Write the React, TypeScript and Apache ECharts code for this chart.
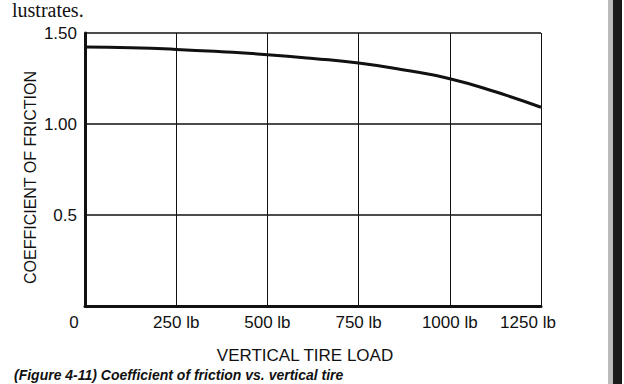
import React, { useEffect, useRef } from "react";
import * as echarts from "echarts";

const loads = [0, 125, 250, 375, 500, 625, 750, 875, 1000, 1125, 1250];
const friction = [1.423, 1.419, 1.41, 1.397, 1.381, 1.36, 1.335, 1.297, 1.249, 1.177, 1.092];
const yTickLabels: Record<string, string> = { "0": "", "0.5": "0.5", "1": "1.00", "1.5": "1.50" };
const xAxisTitle = "VERTICAL TIRE LOAD";
const yAxisTitle = "COEFFICIENT OF FRICTION";
const topText = "lustrates.";
const captionText = "(Figure 4-11) Coefficient of friction vs. vertical tire";

export default function App() {
  const ref = useRef<HTMLDivElement>(null);
  useEffect(() => {
    if (!ref.current) return;
    const chart = echarts.init(ref.current, null, { renderer: "svg" });
    const font = "'Liberation Sans', Arial, sans-serif";
    const ink = "#111";
    chart.setOption({
      animation: false,
      backgroundColor: "#fff",
      grid: { left: 85, right: 83, top: 33, bottom: 78 },
      xAxis: {
        type: "value",
        min: 0,
        max: 1250,
        interval: 250,
        name: xAxisTitle,
        nameLocation: "middle",
        nameGap: 41,
        nameMoveOverlap: false,
        nameTextStyle: { fontFamily: font, fontSize: 17, color: ink, padding: [0, 16, 0, 0] },
        axisLine: { show: true, lineStyle: { color: ink, width: 3 } },
        axisTick: { show: false },
        axisLabel: {
          margin: 8,
          fontFamily: font,
          fontSize: 17,
          color: ink,
          formatter: (v: number) =>
            v === 0 ? "{z|0}" : v === 1250 ? "{r|" + v + " lb}" : v + " lb",
          rich: {
            z: { fontFamily: font, fontSize: 17, color: ink, padding: [0, 22, 0, 0] },
            r: { fontFamily: font, fontSize: 17, color: ink, padding: [0, 26, 0, 0] },
          },
        },
        splitLine: { show: true, lineStyle: { color: ink, width: 1 } },
      },
      yAxis: {
        type: "value",
        min: 0,
        max: 1.5,
        interval: 0.5,
        name: yAxisTitle,
        nameLocation: "middle",
        nameRotate: 90,
        nameGap: 47,
        nameMoveOverlap: false,
        nameTextStyle: { fontFamily: font, fontSize: 16, color: ink, padding: [0, 16, 0, 0] },
        axisLine: { show: true, lineStyle: { color: ink, width: 3 } },
        axisTick: { show: false },
        axisLabel: {
          margin: 8,
          fontFamily: font,
          fontSize: 17,
          color: ink,
          formatter: (v: number) => yTickLabels[String(v)] ?? String(v),
        },
        splitLine: { show: true, lineStyle: { color: ink, width: 1.5 } },
      },
      series: [
        {
          type: "line",
          data: loads.map((x, i) => [x, friction[i]]),
          smooth: true,
          symbol: "none",
          lineStyle: { color: ink, width: 3 },
        },
      ],
      graphic: [
        {
          type: "text",
          left: 12,
          top: 0,
          style: { text: topText, fontFamily: "'Liberation Serif', serif", fontSize: 20, fill: ink },
        },
        {
          type: "text",
          left: 14,
          top: 368,
          style: {
            text: captionText,
            fontFamily: font,
            fontSize: 14,
            fontWeight: "bold",
            fontStyle: "italic",
            fill: ink,
          },
        },
        {
          type: "rect",
          shape: { x: 613, y: 0, width: 9, height: 384 },
          style: { fill: "#1a1a1a" },
        },
        {
          type: "rect",
          shape: { x: 608, y: 0, width: 5, height: 384 },
          style: { fill: "#bbb" },
        },
      ],
    });
    return () => chart.dispose();
  }, []);
  return (
    <div
      ref={ref}
      style={{ position: "fixed", left: 0, top: 0, width: 624, height: 384 }}
    />
  );
}
